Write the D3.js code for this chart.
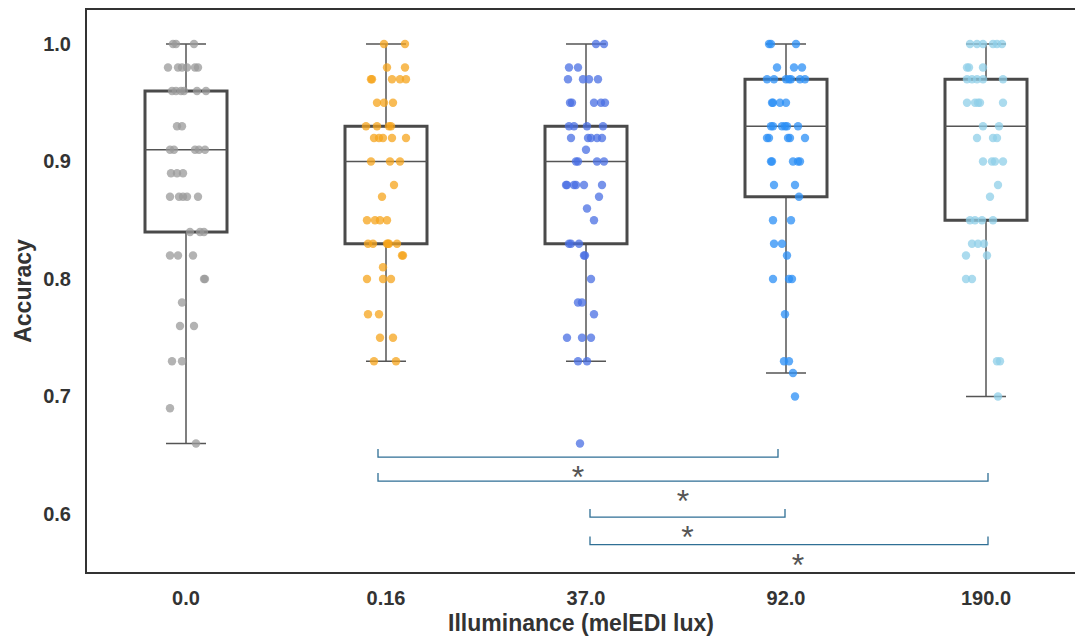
<!DOCTYPE html>
<html lang="en">
<head>
  <meta charset="UTF-8">
  <title>Accuracy by illuminance</title>
  <script src="https://d3js.org/d3.v7.min.js"></script>
  <style>
    body { margin: 0; background: #fff; }
    text { font-family: "Liberation Sans", Arial, sans-serif; }
  </style>
</head>
<body>
  <script>
    const categories = ["0.0", "0.16", "37.0", "92.0", "190.0"];
    const colors = ["#9a9a9a", "#f5a41c", "#4a6fe3", "#2b8ff5", "#8fcfe8"];

    // box stats: [whisker low, q1, median, q3, whisker high]
    const boxStats = [
      [0.66, 0.84, 0.91, 0.96, 1.00],
      [0.73, 0.83, 0.90, 0.93, 1.00],
      [0.73, 0.83, 0.90, 0.93, 1.00],
      [0.72, 0.87, 0.93, 0.97, 1.00],
      [0.70, 0.85, 0.93, 0.97, 1.00]
    ];

    // points: [accuracy, jitter (px at 200px band)]
    const pts0 = [[1.00,-13],[1.00,-10],[1.00,8],[0.98,-18],[0.98,-8],[0.98,-4],[0.98,1],[0.98,9],[0.98,12],
      [0.96,-14],[0.96,-10],[0.96,-5],[0.96,-2],[0.96,11],[0.96,20],[0.93,-9],[0.93,-4],
      [0.91,-16],[0.91,-12],[0.91,9],[0.91,13],[0.91,19],[0.89,-15],[0.89,-9],[0.89,-3],
      [0.87,-16],[0.87,-7],[0.87,-3],[0.87,1],[0.87,12],[0.84,4],[0.84,14],[0.84,18],
      [0.82,-16],[0.82,-8],[0.82,7],[0.80,18],[0.80,19],[0.78,-4],[0.76,-6],[0.76,8],
      [0.73,-14],[0.73,-4],[0.69,-16],[0.66,10]];
    const pts1 = [[1.00,-2],[1.00,19],[0.98,1],[0.98,19],[0.97,-15],[0.97,-14],[0.97,6],[0.97,14],[0.97,20],
      [0.95,-9],[0.95,-2],[0.95,7],[0.93,-20],[0.93,-9],[0.93,3],[0.93,5],
      [0.92,-12],[0.92,-7],[0.92,-3],[0.92,6],[0.92,20],[0.90,-15],[0.90,4],[0.90,14],
      [0.88,8],[0.87,-4],[0.85,-19],[0.85,-11],[0.85,-6],[0.85,1],
      [0.83,-18],[0.83,-13],[0.83,1],[0.83,2],[0.83,3],[0.83,11],[0.82,16],[0.82,17],
      [0.81,-3],[0.80,-19],[0.80,-3],[0.80,5],[0.77,-18],[0.77,-7],[0.75,-6],[0.75,7],
      [0.73,-12],[0.73,10]];
    const pts2 = [[1.00,10],[1.00,18],[0.98,-17],[0.98,-8],[0.97,-18],[0.97,-3],[0.97,3],[0.97,12],
      [0.95,-16],[0.95,-14],[0.95,8],[0.95,15],[0.95,19],[0.93,-17],[0.93,-12],[0.93,1],[0.93,17],
      [0.92,-15],[0.92,2],[0.92,5],[0.92,11],[0.92,16],[0.91,0],[0.90,-10],[0.90,-8],[0.90,11],[0.90,18],
      [0.88,-20],[0.88,-19],[0.88,-12],[0.88,-10],[0.88,-2],[0.88,16],[0.87,13],[0.86,1],[0.85,8],
      [0.83,-17],[0.83,-15],[0.83,-7],[0.82,-2],[0.82,-1],[0.80,5],[0.78,-8],[0.78,-4],[0.77,8],
      [0.75,-19],[0.75,-4],[0.75,5],[0.73,-8],[0.73,1],[0.66,-6]];
    const pts3 = [[1.00,-17],[1.00,-15],[1.00,10],[0.98,-9],[0.98,8],[0.98,16],
      [0.97,-19],[0.97,-12],[0.97,0],[0.97,3],[0.97,5],[0.97,14],[0.97,19],
      [0.95,-14],[0.95,-13],[0.95,-6],[0.95,0],[0.93,-15],[0.93,-13],[0.93,-4],[0.93,-1],[0.93,1],[0.93,12],
      [0.92,-19],[0.92,-17],[0.92,2],[0.92,4],[0.92,19],[0.90,-15],[0.90,-14],[0.90,7],[0.90,12],[0.90,14],
      [0.88,-12],[0.88,9],[0.87,13],[0.85,-13],[0.85,5],[0.83,-12],[0.83,-4],[0.82,1],
      [0.80,-13],[0.80,3],[0.80,6],[0.77,-1],[0.73,-2],[0.73,3],[0.72,7],[0.70,9]];
    const pts4 = [[1.00,-16],[1.00,-9],[1.00,-3],[1.00,7],[1.00,11],[1.00,16],[0.98,-19],[0.98,-17],[0.98,-3],
      [0.97,-19],[0.97,-14],[0.97,-9],[0.97,-3],[0.97,17],[0.95,-19],[0.95,-11],[0.95,-8],[0.95,-6],[0.95,17],
      [0.93,-3],[0.93,13],[0.92,-9],[0.92,7],[0.92,11],[0.90,-3],[0.90,6],[0.90,9],[0.90,17],
      [0.88,12],[0.87,4],[0.85,-16],[0.85,-11],[0.85,-4],[0.85,7],[0.83,-14],[0.83,-8],[0.83,-2],
      [0.82,-20],[0.82,1],[0.80,-20],[0.80,-14],[0.73,11],[0.73,14],[0.70,12]];
    const points = [pts0, pts1, pts2, pts3, pts4];

    const yTicks = [0.6, 0.7, 0.8, 0.9, 1.0];

    // significant pairs: [from, to, bracket level]
    const pairs = [[1, 3, 0.6485], [1, 4, 0.628], [2, 3, 0.5974], [2, 4, 0.574]];
    // small horizontal nudges of the bracket ends, in px: [left, right, star]
    const bracketNudge = [[-8, -8, 0], [-8, 2, 0], [4, -1, 0], [4, 2, 9]];

    const width = 1075, height = 636;
    const mLeft = 86, mTop = 9, plotRight = 1086, plotBottom = 573;

    const svg = d3.select("body").append("svg")
      .attr("width", width)
      .attr("height", height);

    const x = d3.scaleBand()
      .domain(categories)
      .range([mLeft, plotRight]);

    const y = d3.scaleLinear()
      .domain([0.5498, 1.0298])
      .range([plotBottom, mTop]);

    const bw = x.bandwidth();
    const cx = i => x(categories[i]) + bw / 2;

    // boxes
    const boxW = bw * 0.41, capW = bw * 0.2;
    const boxes = svg.append("g").selectAll("g")
      .data(boxStats)
      .join("g");

    boxes.append("line")
      .attr("x1", (d, i) => cx(i)).attr("x2", (d, i) => cx(i))
      .attr("y1", d => y(d[0])).attr("y2", d => y(d[4]))
      .attr("stroke", "#555").attr("stroke-width", 1.5);

    [0, 4].forEach(k => {
      boxes.append("line")
        .attr("x1", (d, i) => cx(i) - capW / 2).attr("x2", (d, i) => cx(i) + capW / 2)
        .attr("y1", d => y(d[k])).attr("y2", d => y(d[k]))
        .attr("stroke", "#555").attr("stroke-width", 1.5);
    });

    boxes.append("rect")
      .attr("x", (d, i) => cx(i) - boxW / 2)
      .attr("y", d => y(d[3]))
      .attr("width", boxW)
      .attr("height", d => y(d[1]) - y(d[3]))
      .attr("fill", "#fff")
      .attr("stroke", "#4a4a4a")
      .attr("stroke-width", 3);

    boxes.append("line")
      .attr("x1", (d, i) => cx(i) - boxW / 2).attr("x2", (d, i) => cx(i) + boxW / 2)
      .attr("y1", d => y(d[2])).attr("y2", d => y(d[2]))
      .attr("stroke", "#555").attr("stroke-width", 1.5);

    // strip points
    points.forEach((grp, i) => {
      svg.append("g").selectAll("circle")
        .data(grp)
        .join("circle")
        .attr("cx", d => cx(i) + d[1] * bw / 200)
        .attr("cy", d => y(d[0]))
        .attr("r", 4.2)
        .attr("fill", colors[i])
        .attr("fill-opacity", 0.75);
    });

    // significance brackets
    const br = svg.append("g");
    pairs.forEach((p, k) => {
      const n = bracketNudge[k];
      const x1 = cx(p[0]) + n[0], x2 = cx(p[1]) + n[1], yy = y(p[2]);
      br.append("path")
        .attr("d", `M${x1},${yy - 8}V${yy}H${x2}V${yy - 8}`)
        .attr("fill", "none")
        .attr("stroke", "#2f6f95")
        .attr("stroke-width", 1.3);
      br.append("text")
        .attr("x", (x1 + x2) / 2 + n[2])
        .attr("y", yy + 31)
        .attr("text-anchor", "middle")
        .attr("font-size", 32)
        .attr("fill", "#555")
        .text("*");
    });

    // frame
    svg.append("path")
      .attr("d", `M${plotRight},${mTop}H${mLeft}V${plotBottom}H${plotRight}`)
      .attr("fill", "none")
      .attr("stroke", "#333")
      .attr("stroke-width", 2);

    // axes
    const yAxis = svg.append("g")
      .attr("transform", `translate(${mLeft},0)`)
      .call(d3.axisLeft(y).tickValues(yTicks).tickFormat(d3.format(".1f")).tickSize(0).tickPadding(15));
    yAxis.select(".domain").remove();
    yAxis.selectAll("text")
      .attr("font-size", 20).attr("font-weight", "bold").attr("fill", "#333")
      .style("font-family", "'Liberation Sans', Arial, sans-serif");

    const xAxis = svg.append("g")
      .attr("transform", `translate(0,${plotBottom})`)
      .call(d3.axisBottom(x).tickSize(0).tickPadding(18));
    xAxis.select(".domain").remove();
    xAxis.selectAll("text")
      .attr("font-size", 20).attr("font-weight", "bold").attr("fill", "#333")
      .style("font-family", "'Liberation Sans', Arial, sans-serif");

    svg.append("text")
      .attr("transform", `translate(31,${(mTop + plotBottom) / 2}) rotate(-90)`)
      .attr("text-anchor", "middle")
      .attr("font-size", 23).attr("font-weight", "bold").attr("fill", "#333")
      .text("Accuracy");

    svg.append("text")
      .attr("x", 581).attr("y", 631)
      .attr("text-anchor", "middle")
      .attr("font-size", 23).attr("font-weight", "bold").attr("fill", "#333")
      .text("Illuminance (melEDI lux)");
  </script>
</body>
</html>
